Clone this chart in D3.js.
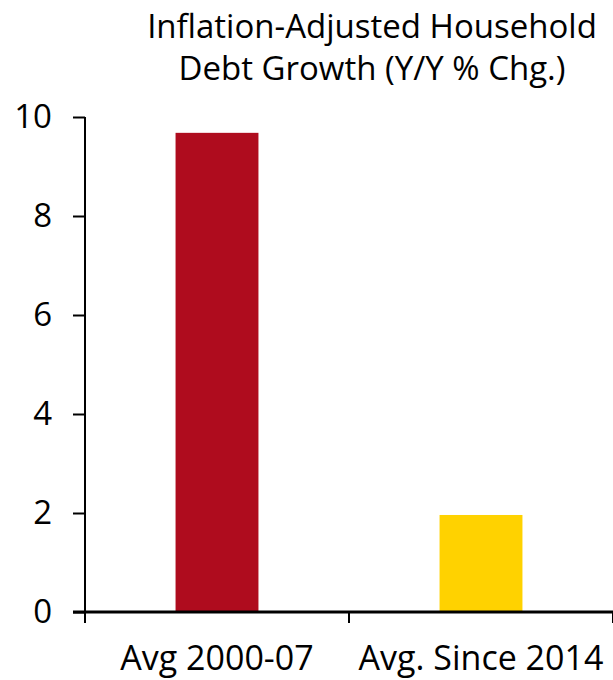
<!DOCTYPE html>
<html>
<head>
<meta charset="utf-8">
<script src="https://cdn.jsdelivr.net/npm/d3@7"></script>
<style>
  html, body { margin: 0; padding: 0; background: #fff; }
  svg { display: block; font-family: "Open Sans", "Noto Sans", sans-serif; }
</style>
</head>
<body>
<div id="chart"></div>
<script>
// chart data
const categories = ["Avg 2000-07", "Avg. Since 2014"];
const values = [9.68, 1.96];
const barColors = ["#AF0C1E", "#FFD200"];
const yTicks = [0, 2, 4, 6, 8, 10];
const titleLines = ["Inflation-Adjusted Household", "Debt Growth (Y/Y % Chg.)"];

const width = 613;
const height = 680;
const margin = { top: 117, right: 0, bottom: 68, left: 85 };

const svg = d3
  .select("#chart")
  .append("svg")
  .attr("width", width)
  .attr("height", height)
  .attr("viewBox", [0, 0, width, height]);

const x = d3
  .scaleBand()
  .domain(categories)
  .range([margin.left, width - margin.right])
  .paddingInner(0.686)
  .paddingOuter(0.343);

const y = d3
  .scaleLinear()
  .domain([0, 10])
  .range([height - margin.bottom, margin.top]);

// title
svg
  .append("text")
  .attr("x", 372)
  .attr("y", 38)
  .attr("text-anchor", "middle")
  .attr("font-size", 33)
  .selectAll("tspan")
  .data(titleLines)
  .join("tspan")
  .attr("x", 372)
  .attr("dy", (d, i) => (i === 0 ? 0 : 42))
  .text((d) => d);

// bars
svg
  .append("g")
  .selectAll("rect")
  .data(values)
  .join("rect")
  .attr("x", (d, i) => x(categories[i]))
  .attr("y", (d) => y(d))
  .attr("width", x.bandwidth())
  .attr("height", (d) => y(0) - y(d))
  .attr("fill", (d, i) => barColors[i]);

// y axis
const yAxis = svg
  .append("g")
  .attr("transform", `translate(${margin.left}, 0)`)
  .call(d3.axisLeft(y).tickValues(yTicks).tickSize(12).tickPadding(21));
yAxis.select(".domain").attr("stroke-width", 2).attr("d", `M0,${y(10)}V${y(0)}`);
yAxis.selectAll(".tick line").attr("stroke-width", 2);
yAxis
  .selectAll(".tick text")
  .attr("font-size", 33)
  .attr("font-family", "'Open Sans', sans-serif")
  .attr("fill", "#000");

// x axis: ticks at the category boundaries
const x0 = x.range()[0];
const bounds = d3.range(categories.length + 1).map((i) => x0 + i * x.step());
const xAxis = svg.append("g").attr("transform", `translate(0, ${y(0)})`);
xAxis
  .append("line")
  .attr("x1", margin.left - 12)
  .attr("x2", width)
  .attr("stroke", "#000")
  .attr("stroke-width", 3);
xAxis
  .selectAll(".bound")
  .data(bounds)
  .join("line")
  .attr("class", "bound")
  .attr("x1", (d) => d)
  .attr("x2", (d) => d)
  .attr("y1", 0)
  .attr("y2", 11)
  .attr("stroke", "#000")
  .attr("stroke-width", 2);
xAxis
  .selectAll(".label")
  .data(categories)
  .join("text")
  .attr("class", "label")
  .attr("x", (d) => x(d) + x.bandwidth() / 2)
  .attr("y", 58)
  .attr("text-anchor", "middle")
  .attr("font-size", 34)
  .text((d) => d);
</script>
</body>
</html>
